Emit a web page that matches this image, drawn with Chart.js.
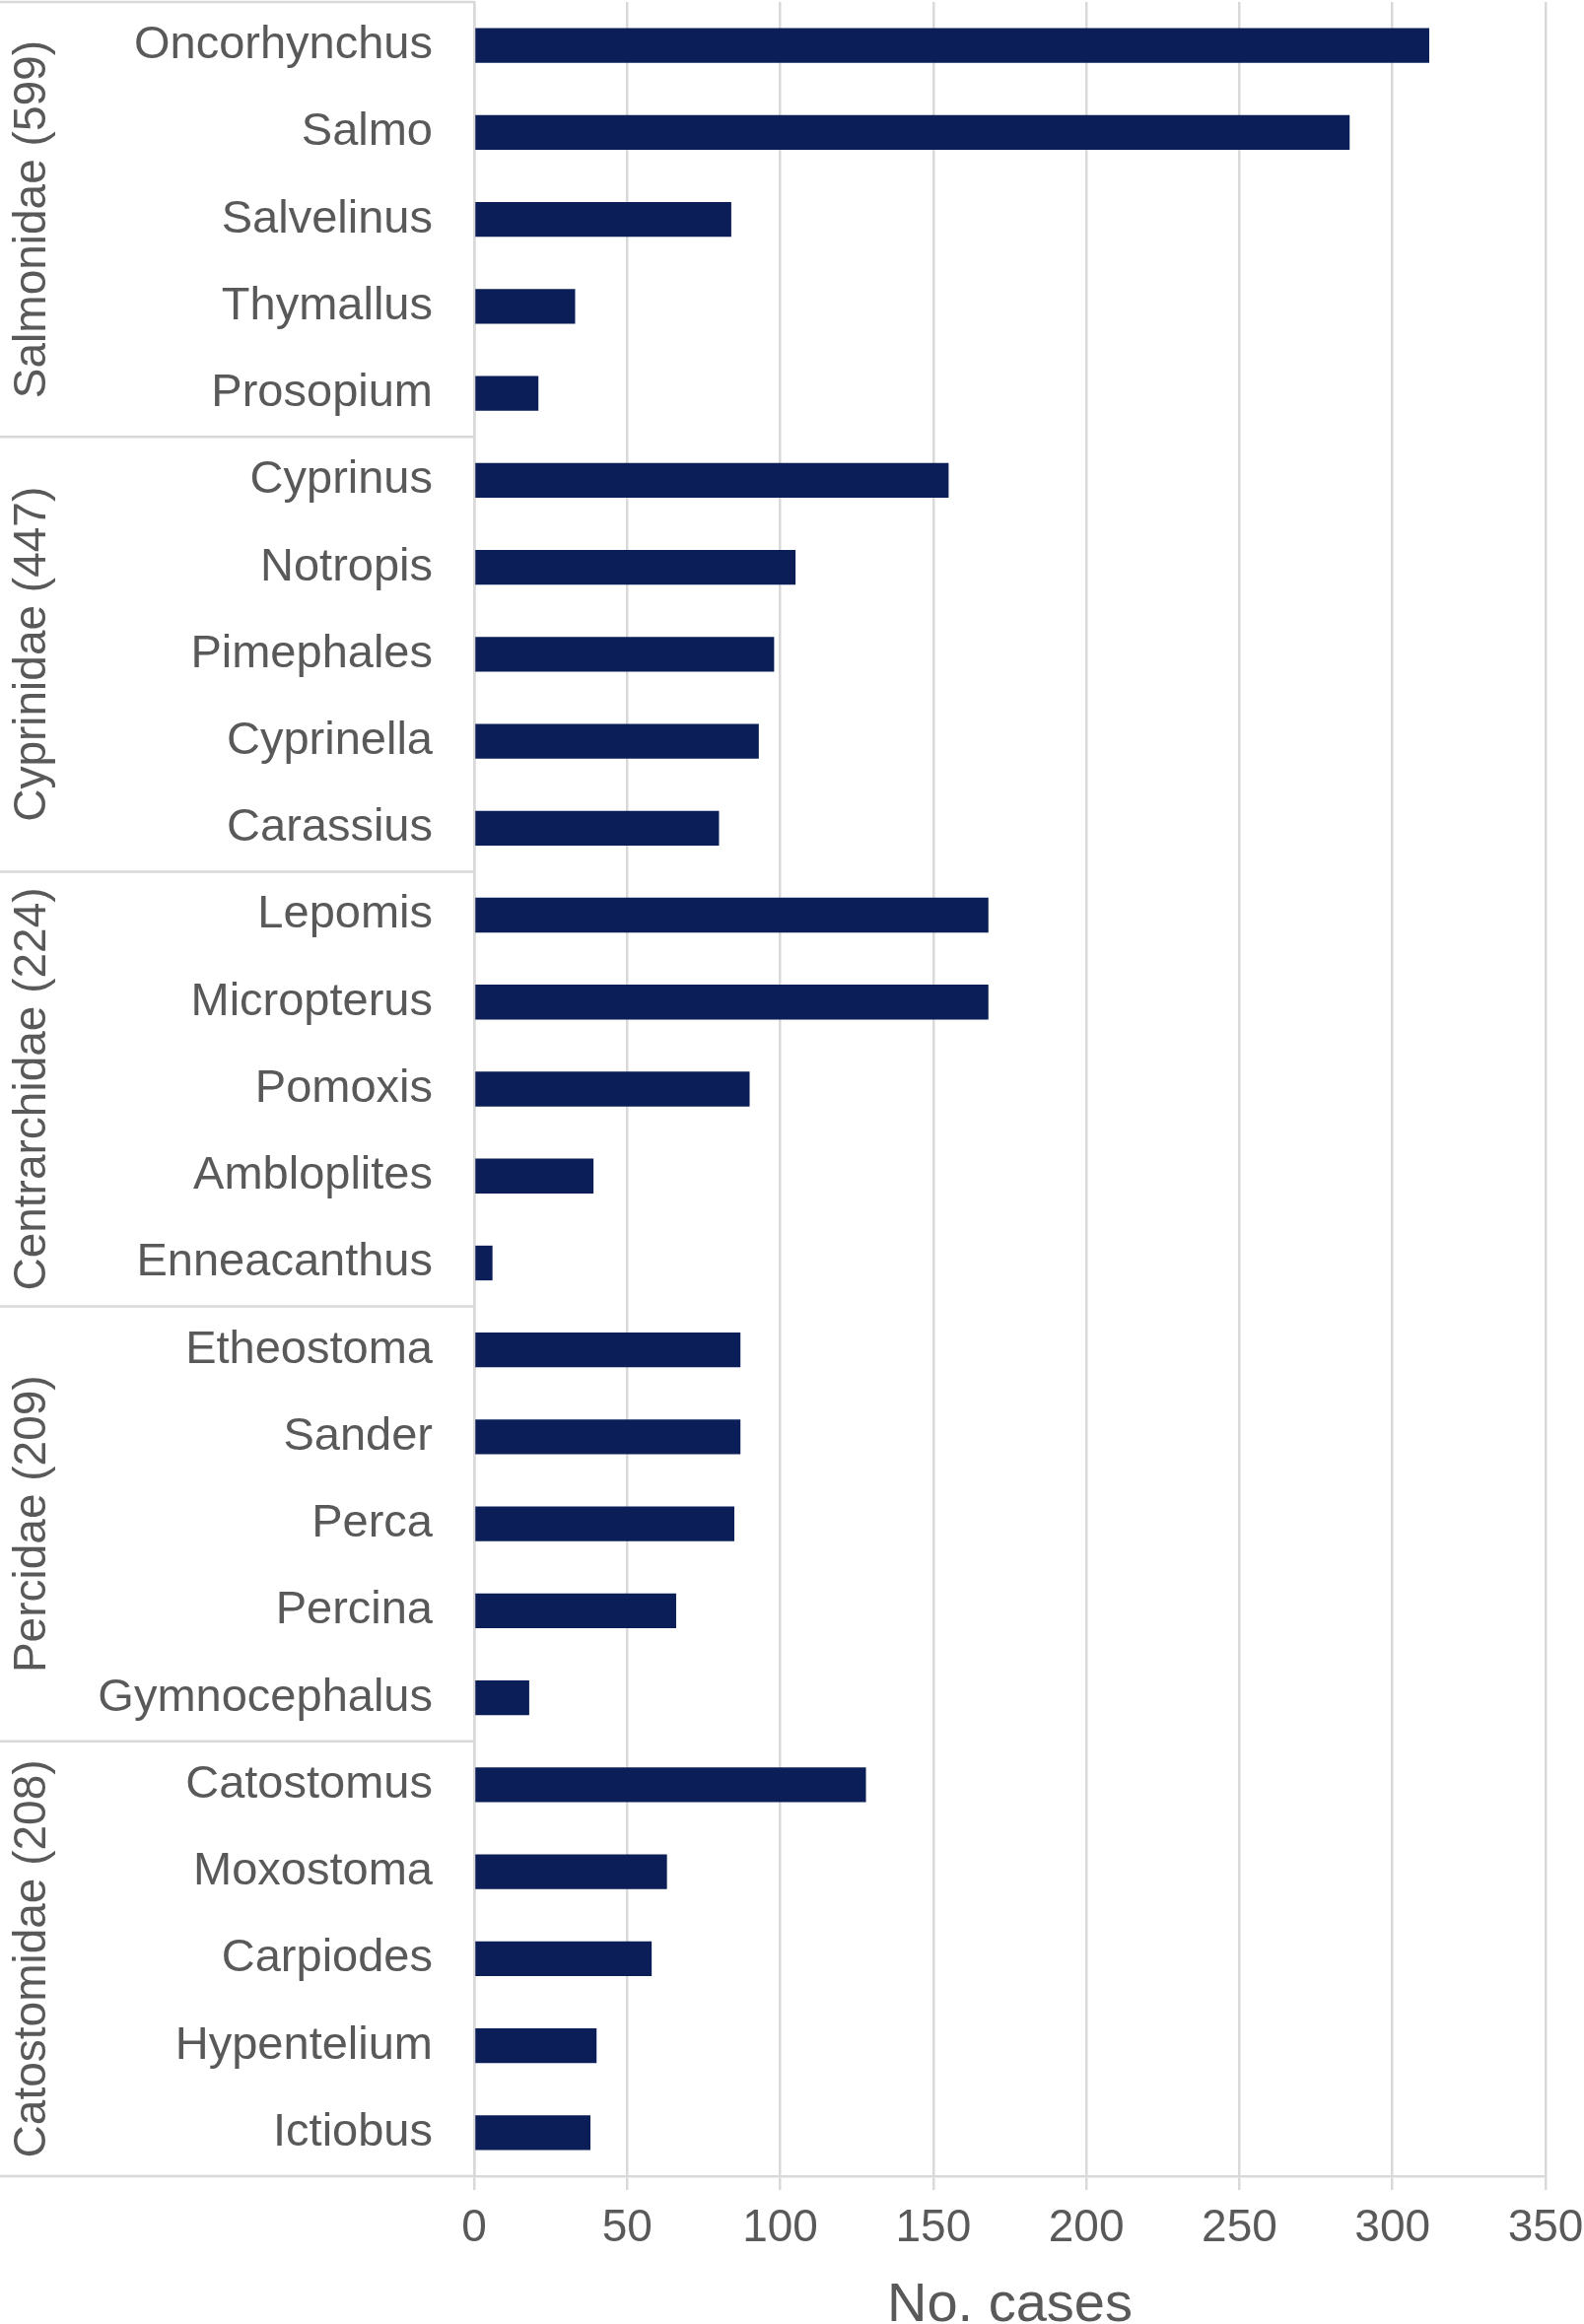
<!DOCTYPE html>
<html>
<head>
<meta charset="utf-8">
<script src="https://cdn.jsdelivr.net/npm/chart.js@4"></script>
<style>
  body { margin: 0; background: #fff; }
  #wrap { width: 1607px; height: 2358px; position: relative; }
</style>
</head>
<body>
<div id="wrap"><canvas id="myChart"></canvas></div>
<script>
const genera = ['Oncorhynchus', 'Salmo', 'Salvelinus', 'Thymallus', 'Prosopium',
  'Cyprinus', 'Notropis', 'Pimephales', 'Cyprinella', 'Carassius',
  'Lepomis', 'Micropterus', 'Pomoxis', 'Ambloplites', 'Enneacanthus',
  'Etheostoma', 'Sander', 'Perca', 'Percina', 'Gymnocephalus',
  'Catostomus', 'Moxostoma', 'Carpiodes', 'Hypentelium', 'Ictiobus'];
const cases = [312, 286, 84, 33, 21,
  155, 105, 98, 93, 80,
  168, 168, 90, 39, 6,
  87, 87, 85, 66, 18,
  128, 63, 58, 40, 38];
const families = ['Salmonidae (599)', 'Cyprinidae (447)', 'Centrarchidae (224)', 'Percidae (209)', 'Catostomidae (208)'];
const familySizes = [5, 5, 5, 5, 5];
const xTicks = [0, 50, 100, 150, 200, 250, 300, 350];

const grey = '#595959';
const lineGrey = '#d9d9d9';
const font = 'Liberation Sans, Arial, sans-serif';

// family labels and separator lines left of the axis
const familyPlugin = {
  id: 'families',
  afterDraw(chart) {
    const c = chart.ctx;
    const y = chart.scales.y;
    const area = chart.chartArea;
    const half = (y.getPixelForValue(1) - y.getPixelForValue(0)) / 2;
    c.save();
    c.strokeStyle = lineGrey;
    c.lineWidth = 2.5;
    let start = 0;
    const edges = [area.top];
    familySizes.forEach(n => {
      edges.push(y.getPixelForValue(start + n - 1) + half);
      start += n;
    });
    edges.forEach(e => {
      c.beginPath();
      c.moveTo(0, e);
      c.lineTo(area.left, e);
      c.stroke();
    });
    c.fillStyle = grey;
    c.font = '46px ' + font;
    c.textAlign = 'center';
    c.textBaseline = 'middle';
    families.forEach((name, i) => {
      const mid = (edges[i] + edges[i + 1]) / 2;
      c.save();
      c.translate(33, mid);
      c.rotate(-Math.PI / 2);
      c.fillText(name, 0, 0);
      c.restore();
    });
    c.restore();
  }
};

const ctx = document.getElementById('myChart');

new Chart(ctx, {
  type: 'bar',
  data: {
    labels: genera,
    datasets: [{
      label: 'No. cases',
      data: cases,
      backgroundColor: '#0b1e58',
      borderWidth: 0,
      barPercentage: 0.4,
      categoryPercentage: 1
    }]
  },
  plugins: [familyPlugin],
  options: {
    indexAxis: 'y',
    responsive: true,
    maintainAspectRatio: false,
    animation: false,
    layout: { padding: { top: 2, right: 39, left: 0, bottom: 0 } },
    plugins: {
      legend: { display: false },
      tooltip: { enabled: false }
    },
    scales: {
      x: {
        min: 0,
        max: 350,
        afterBuildTicks(scale) {
          scale.ticks = xTicks.map(v => ({ value: v }));
        },
        afterFit(scale) {
          scale.height = 150;
          scale.paddingLeft = 0;
          scale.paddingRight = 0;
        },
        grid: { color: lineGrey, lineWidth: 2.5, tickLength: 14 },
        border: { color: lineGrey, width: 2.5 },
        ticks: { color: grey, padding: 12, font: { family: font, size: 46 } },
        title: {
          display: true,
          text: 'No. cases',
          color: grey,
          font: { family: font, size: 56 },
          padding: { top: 0, bottom: -15 }
        }
      },
      y: {
        afterFit(scale) {
          scale.width = 481;
          scale.paddingTop = 0;
          scale.paddingBottom = 0;
        },
        grid: { display: false, drawTicks: false },
        border: { display: true, color: lineGrey, width: 2.5 },
        ticks: { color: grey, padding: 42, autoSkip: false, font: { family: font, size: 47 } }
      }
    }
  }
});
</script>
</body>
</html>
